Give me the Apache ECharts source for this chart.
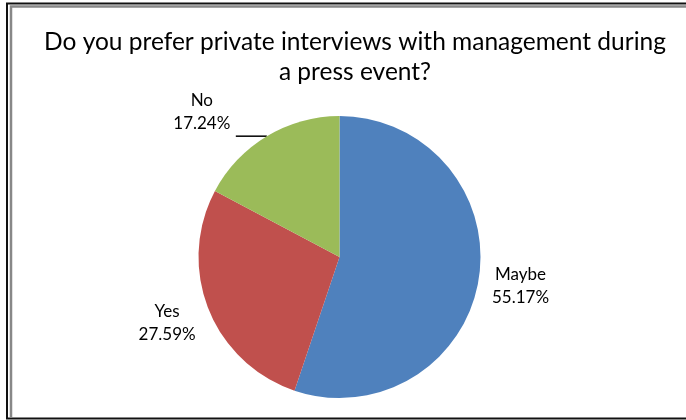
<!DOCTYPE html>
<html>
<head>
<meta charset="utf-8">
<script src="https://cdn.jsdelivr.net/npm/echarts@6/dist/echarts.min.js"></script>
<style>
  html, body { margin: 0; padding: 0; background: #fff; }
  #chart { width: 686px; height: 420px; }
</style>
</head>
<body>
<div id="chart"></div>
<script>
// Survey answers and their shares (percent)
const answers = ['Maybe', 'Yes', 'No'];
const shares = [55.17, 27.59, 17.24];
const sliceColors = ['#4F81BD', '#C0504D', '#9BBB59'];
const titleText = 'Do you prefer private interviews with management during\na press event?';

const FONT = 'Lato, "Noto Sans", sans-serif';

// Per-slice label tweaks: offsets, leader line, text anchored by its bottom edge
const labelTweaks = {
  Maybe: { dx: 0, dy: 5, line: false },
  Yes:   { dx: 0, dy: 11, line: false },
  No:    { dx: 0, dy: -1, line: true, bottom: true }
};

const chart = echarts.init(document.getElementById('chart'), null, { renderer: 'canvas' });

const seriesData = answers.map((name, i) => {
  const t = labelTweaks[name];
  return {
    name: name,
    value: shares[i],
    itemStyle: { color: sliceColors[i] },
    labelLine: t.line
      ? { show: true, length: 0, length2: 31, smooth: false, lineStyle: { color: '#000', width: 1.5 } }
      : { show: false, length: 8, length2: 0 }
  };
});

chart.setOption({
  animation: false,
  backgroundColor: '#fff',
  title: {
    text: titleText,
    left: 350,
    top: 22,
    textAlign: 'center',
    textStyle: {
      fontFamily: FONT,
      fontWeight: 'normal',
      fontSize: 24.5,
      color: '#000',
      lineHeight: 30
    }
  },
  graphic: [
    // frame: dark outline with a grey inner edge on the left and top
    {
      type: 'polyline',
      shape: { points: [[690, 3.5], [7, 3.5], [7, 418.5], [690, 418.5]] },
      style: { stroke: '#111', lineWidth: 2, fill: null },
      silent: true
    },
    {
      type: 'polyline',
      shape: { points: [[690, 6.5], [11, 6.5], [11, 417.5]] },
      style: { stroke: '#888', lineWidth: 2.5, fill: null },
      silent: true
    }
  ],
  series: [{
    type: 'pie',
    center: [339.5, 257],
    radius: 141,
    startAngle: 90,
    clockwise: true,
    avoidLabelOverlap: false,
    itemStyle: { borderWidth: 0 },
    label: {
      show: true,
      position: 'outside',
      distanceToLabelLine: 3,
      formatter: (p) => '{t|' + p.name + '}\n{t|' + p.value.toFixed(2) + '%}',
      rich: {
        t: {
          fontFamily: FONT,
          fontSize: 17,
          color: '#000',
          width: 62,
          align: 'center',
          lineHeight: 23
        }
      }
    },
    labelLayout: (params) => {
      const t = labelTweaks[answers[params.dataIndex]];
      const out = { dx: t.dx, dy: t.dy };
      if (t.bottom) out.verticalAlign = 'bottom';
      return out;
    },
    data: seriesData
  }]
});
</script>
</body>
</html>
